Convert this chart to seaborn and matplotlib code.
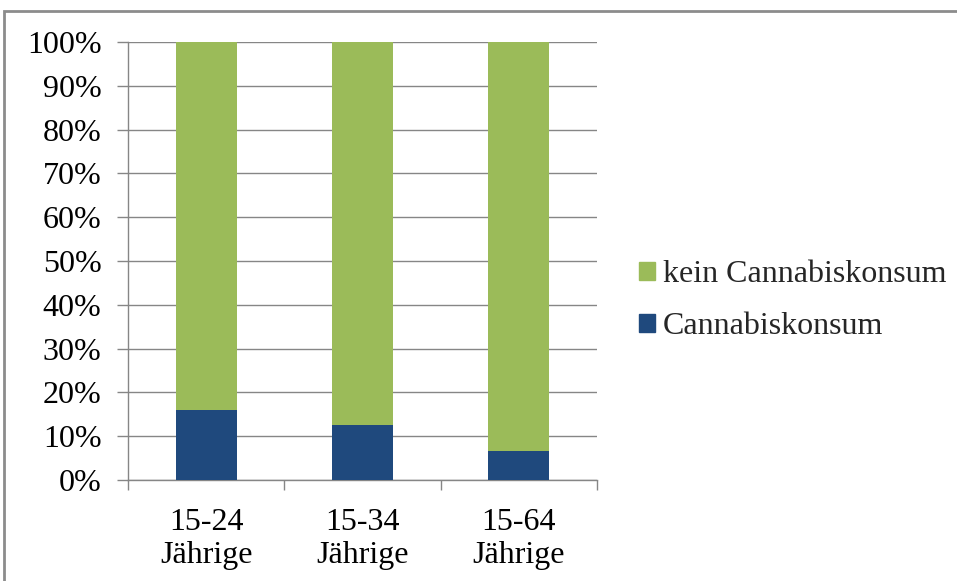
import matplotlib
matplotlib.use('Agg')
import matplotlib.pyplot as plt
import matplotlib.patches as mpatches
from matplotlib.ticker import FixedLocator, PercentFormatter
import seaborn as sns
import pandas as pd

# Daten
gruppen = ['15-24\nJährige', '15-34\nJährige', '15-64\nJährige']
cannabis = [15.9, 12.6, 6.7]
kein_cannabis = [100 - v for v in cannabis]

gruen = '#9BBB59'
blau = '#1F497D'
grau = '#868686'

sns.set_theme(style='white')
plt.rcParams['font.family'] = ['Liberation Serif', 'DejaVu Serif']

df = pd.DataFrame({'Gruppe': gruppen, 'Cannabis': cannabis,
                   'Gesamt': [c + k for c, k in zip(cannabis, kein_cannabis)]})

fig = plt.figure(figsize=(9.57, 5.81), dpi=100)
ax = fig.add_axes([128 / 957, 1 - 480 / 581, 469 / 957, 438 / 581])

sns.barplot(data=df, x='Gruppe', y='Gesamt', color=gruen, width=0.39,
            saturation=1, linewidth=0, ax=ax, zorder=3)
sns.barplot(data=df, x='Gruppe', y='Cannabis', color=blau, width=0.39,
            saturation=1, linewidth=0, ax=ax, zorder=4)

ax.set_xlim(-0.5, 2.5)
ax.set_ylim(0, 100)
ax.set_xlabel('')
ax.set_ylabel('')
ax.yaxis.set_major_locator(FixedLocator(range(0, 101, 10)))
ax.yaxis.set_major_formatter(PercentFormatter(decimals=0))
ax.grid(axis='y', color=grau, linewidth=1, zorder=0)
ax.grid(axis='x', visible=False)

ax.xaxis.set_minor_locator(FixedLocator([-0.5, 0.5, 1.5, 2.5]))
ax.tick_params(axis='x', which='major', length=0, pad=20, labelsize=23,
               colors='black')
ax.tick_params(axis='x', which='minor', length=7, width=1, color=grau,
               direction='out', bottom=True)
ax.tick_params(axis='y', length=8, width=1, color=grau, direction='out',
               left=True, pad=11, labelsize=23, labelcolor='black')
for lbl in ax.get_xticklabels():
    lbl.set_linespacing(1.18)

for s in ['top', 'right']:
    ax.spines[s].set_visible(False)
for s in ['left', 'bottom']:
    ax.spines[s].set_color(grau)
    ax.spines[s].set_linewidth(1)

handles = [mpatches.Patch(color=gruen, label='kein Cannabiskonsum'),
           mpatches.Patch(color=blau, label='Cannabiskonsum')]
fig.legend(handles=handles, loc='center left', bbox_to_anchor=(623 / 957, 1 - 301 / 581),
           frameon=False, fontsize=23, handlelength=0.5, handleheight=0.5,
           handletextpad=0.25, labelspacing=0.72, borderpad=0)

# Rahmen um die Grafik
rahmen = mpatches.Rectangle((4 / 957, -0.1), 1.0, 1.1 - 11 / 581, transform=fig.transFigure,
                            fill=False, edgecolor='#8C8C8C', linewidth=2)
fig.patches.append(rahmen)

fig.savefig('out.png', dpi=100)
